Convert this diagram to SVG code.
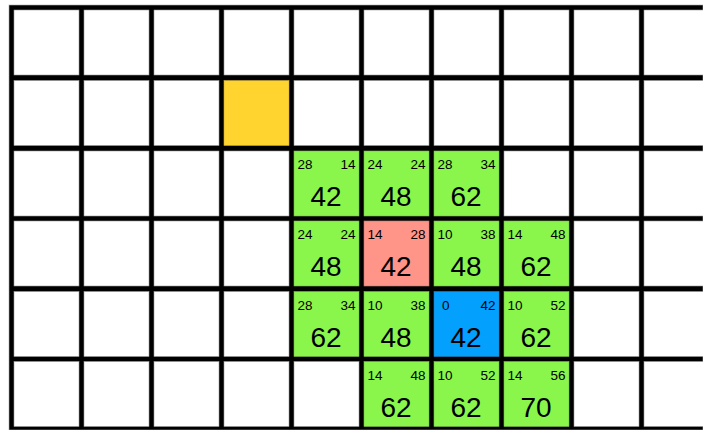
<svg xmlns="http://www.w3.org/2000/svg" width="703" height="430" viewBox="0 0 703 430">
<style>
.c{fill:#ffffff;stroke:#9a9a9a;stroke-width:0.6}
.g{fill:#8af64c;stroke:#7ab84a;stroke-width:0.6}
.y{fill:#ffd42e;stroke:#c9a93a;stroke-width:0.6}
.r{fill:#ff9489;stroke:#c07a72;stroke-width:0.6}
.b{fill:#03a0fd;stroke:#2a7fb8;stroke-width:0.6}
text{font-family:"Liberation Sans",Arial,sans-serif;fill:#000}
.s{font-size:13.5px}
.e{text-anchor:end}
.big{font-size:28px;text-anchor:middle}
</style>
<rect x="0" y="0" width="703" height="430" fill="#ffffff"/>
<rect x="9" y="5" width="694" height="425" fill="#000000" stroke="#aaaaaa" stroke-width="0.6"/>
<g id="grid">
<!-- row 0 -->
<rect class="c" x="14" y="10" width="65" height="65"/><rect class="c" x="84" y="10" width="65" height="65"/><rect class="c" x="154" y="10" width="65" height="65"/><rect class="c" x="224" y="10" width="65" height="65"/><rect class="c" x="294" y="10" width="65" height="65"/><rect class="c" x="364" y="10" width="65" height="65"/><rect class="c" x="434" y="10" width="65" height="65"/><rect class="c" x="504" y="10" width="65" height="65"/><rect class="c" x="574" y="10" width="65" height="65"/><rect class="c" x="644" y="10" width="65" height="65"/>
<!-- row 1 -->
<rect class="c" x="14" y="80.5" width="65" height="65"/><rect class="c" x="84" y="80.5" width="65" height="65"/><rect class="c" x="154" y="80.5" width="65" height="65"/><rect class="c" x="294" y="80.5" width="65" height="65"/><rect class="c" x="364" y="80.5" width="65" height="65"/><rect class="c" x="434" y="80.5" width="65" height="65"/><rect class="c" x="504" y="80.5" width="65" height="65"/><rect class="c" x="574" y="80.5" width="65" height="65"/><rect class="c" x="644" y="80.5" width="65" height="65"/>
<!-- row 2 -->
<rect class="c" x="14" y="151" width="65" height="65"/><rect class="c" x="84" y="151" width="65" height="65"/><rect class="c" x="154" y="151" width="65" height="65"/><rect class="c" x="224" y="151" width="65" height="65"/><rect class="c" x="504" y="151" width="65" height="65"/><rect class="c" x="574" y="151" width="65" height="65"/><rect class="c" x="644" y="151" width="65" height="65"/>
<!-- row 3 -->
<rect class="c" x="14" y="221" width="65" height="65"/><rect class="c" x="84" y="221" width="65" height="65"/><rect class="c" x="154" y="221" width="65" height="65"/><rect class="c" x="224" y="221" width="65" height="65"/><rect class="c" x="574" y="221" width="65" height="65"/><rect class="c" x="644" y="221" width="65" height="65"/>
<!-- row 4 -->
<rect class="c" x="14" y="291.5" width="65" height="65"/><rect class="c" x="84" y="291.5" width="65" height="65"/><rect class="c" x="154" y="291.5" width="65" height="65"/><rect class="c" x="224" y="291.5" width="65" height="65"/><rect class="c" x="574" y="291.5" width="65" height="65"/><rect class="c" x="644" y="291.5" width="65" height="65"/>
<!-- row 5 -->
<rect class="c" x="14" y="361.5" width="65" height="65"/><rect class="c" x="84" y="361.5" width="65" height="65"/><rect class="c" x="154" y="361.5" width="65" height="65"/><rect class="c" x="224" y="361.5" width="65" height="65"/><rect class="c" x="294" y="361.5" width="65" height="65"/><rect class="c" x="574" y="361.5" width="65" height="65"/><rect class="c" x="644" y="361.5" width="65" height="65"/>
</g>
<g id="start"><rect class="y" x="224" y="80.5" width="65" height="65"/></g>

<g id="n-2-4"><rect class="g" x="294" y="151" width="65" height="65"/><text class="s" x="297.5" y="169">28</text><text class="s e" x="355.5" y="169">14</text><text class="big" x="326" y="206">42</text></g>
<g id="n-2-5"><rect class="g" x="364" y="151" width="65" height="65"/><text class="s" x="367.5" y="169">24</text><text class="s e" x="425.5" y="169">24</text><text class="big" x="396" y="206">48</text></g>
<g id="n-2-6"><rect class="g" x="434" y="151" width="65" height="65"/><text class="s" x="437.5" y="169">28</text><text class="s e" x="495.5" y="169">34</text><text class="big" x="466" y="206">62</text></g>

<g id="n-3-4"><rect class="g" x="294" y="221" width="65" height="65"/><text class="s" x="297.5" y="239">24</text><text class="s e" x="355.5" y="239">24</text><text class="big" x="326" y="276">48</text></g>
<g id="n-3-5"><rect class="r" x="364" y="221" width="65" height="65"/><text class="s" x="367.5" y="239">14</text><text class="s e" x="425.5" y="239">28</text><text class="big" x="396" y="276">42</text></g>
<g id="n-3-6"><rect class="g" x="434" y="221" width="65" height="65"/><text class="s" x="437.5" y="239">10</text><text class="s e" x="495.5" y="239">38</text><text class="big" x="466" y="276">48</text></g>
<g id="n-3-7"><rect class="g" x="504" y="221" width="65" height="65"/><text class="s" x="507.5" y="239">14</text><text class="s e" x="565.5" y="239">48</text><text class="big" x="536" y="276">62</text></g>

<g id="n-4-4"><rect class="g" x="294" y="291.5" width="65" height="65"/><text class="s" x="297.5" y="309.5">28</text><text class="s e" x="355.5" y="309.5">34</text><text class="big" x="326" y="346.5">62</text></g>
<g id="n-4-5"><rect class="g" x="364" y="291.5" width="65" height="65"/><text class="s" x="367.5" y="309.5">10</text><text class="s e" x="425.5" y="309.5">38</text><text class="big" x="396" y="346.5">48</text></g>
<g id="n-4-6"><rect class="b" x="434" y="291.5" width="65" height="65"/><text class="s" x="442" y="309.5">0</text><text class="s e" x="495.5" y="309.5">42</text><text class="big" x="466" y="346.5">42</text></g>
<g id="n-4-7"><rect class="g" x="504" y="291.5" width="65" height="65"/><text class="s" x="507.5" y="309.5">10</text><text class="s e" x="565.5" y="309.5">52</text><text class="big" x="536" y="346.5">62</text></g>

<g id="n-5-5"><rect class="g" x="364" y="361.5" width="65" height="65"/><text class="s" x="367.5" y="379.5">14</text><text class="s e" x="425.5" y="379.5">48</text><text class="big" x="396" y="416.5">62</text></g>
<g id="n-5-6"><rect class="g" x="434" y="361.5" width="65" height="65"/><text class="s" x="437.5" y="379.5">10</text><text class="s e" x="495.5" y="379.5">52</text><text class="big" x="466" y="416.5">62</text></g>
<g id="n-5-7"><rect class="g" x="504" y="361.5" width="65" height="65"/><text class="s" x="507.5" y="379.5">14</text><text class="s e" x="565.5" y="379.5">56</text><text class="big" x="536" y="416.5">70</text></g>
<g id="connectors"></g>
</svg>
